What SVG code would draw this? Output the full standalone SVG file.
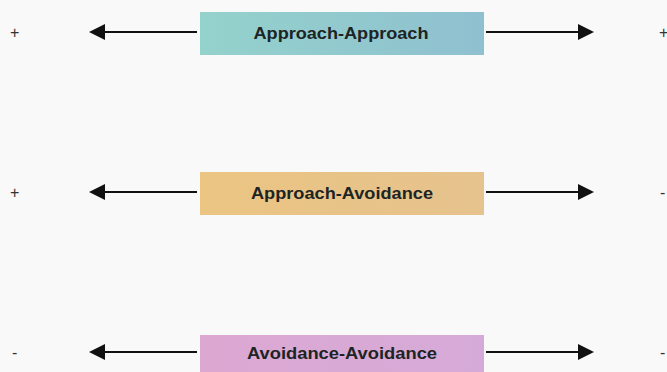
<svg xmlns="http://www.w3.org/2000/svg" width="667" height="372" viewBox="0 0 667 372">
  <style>
    .lbl { font-family: "Liberation Sans", Arial, sans-serif; font-weight: bold; font-size: 16.5px; fill: #1d2424; text-anchor: middle; }
    .sign { font-family: "Liberation Sans", Arial, sans-serif; font-size: 16px; fill: #333; }
    .conn { stroke: #111; stroke-width: 2; fill: none; }
  </style>
  <defs>
    <marker id="head" viewBox="0 0 16 16" refX="2" refY="8" markerWidth="16" markerHeight="16" markerUnits="userSpaceOnUse" orient="auto">
      <path d="M0,0 L16,8 L0,16 Z" fill="#111"/>
    </marker>
    <linearGradient id="gTeal" x1="0" x2="1" y1="0" y2="0">
      <stop offset="0" stop-color="#94d2cc"/>
      <stop offset="1" stop-color="#8fc0d0"/>
    </linearGradient>
    <linearGradient id="gTan" x1="0" x2="1" y1="0" y2="0">
      <stop offset="0" stop-color="#ebc582"/>
      <stop offset="1" stop-color="#e6c28e"/>
    </linearGradient>
    <linearGradient id="gLav" x1="0" x2="1" y1="0" y2="0">
      <stop offset="0" stop-color="#dca8d2"/>
      <stop offset="1" stop-color="#d6aad8"/>
    </linearGradient>
  </defs>
  <rect width="667" height="372" fill="#f9f9fa"/>

  <g id="connectors">
    <line class="conn" x1="197" y1="32" x2="103" y2="32" marker-end="url(#head)"/>
    <line class="conn" x1="486" y1="32" x2="580" y2="32" marker-end="url(#head)"/>
    <line class="conn" x1="197" y1="192" x2="103" y2="192" marker-end="url(#head)"/>
    <line class="conn" x1="486" y1="192" x2="580" y2="192" marker-end="url(#head)"/>
    <line class="conn" x1="197" y1="352" x2="103" y2="352" marker-end="url(#head)"/>
    <line class="conn" x1="486" y1="352" x2="580" y2="352" marker-end="url(#head)"/>
  </g>

  <g id="approach-approach">
    <rect x="200" y="12" width="284" height="43" fill="url(#gTeal)"/>
    <text class="lbl" x="341" y="39" textLength="175" lengthAdjust="spacingAndGlyphs">Approach-Approach</text>
    <text class="sign" x="10" y="38">+</text>
    <text class="sign" x="659" y="38">+</text>
  </g>

  <g id="approach-avoidance">
    <rect x="200" y="172" width="284" height="43" fill="url(#gTan)"/>
    <text class="lbl" x="342" y="199" textLength="182" lengthAdjust="spacingAndGlyphs">Approach-Avoidance</text>
    <text class="sign" x="10" y="198">+</text>
    <text class="sign" x="660" y="198">-</text>
  </g>

  <g id="avoidance-avoidance">
    <rect x="200" y="335" width="284" height="40" fill="url(#gLav)"/>
    <text class="lbl" x="342" y="359" textLength="190" lengthAdjust="spacingAndGlyphs">Avoidance-Avoidance</text>
    <text class="sign" x="12" y="358">-</text>
    <text class="sign" x="660" y="358">-</text>
  </g>
</svg>
